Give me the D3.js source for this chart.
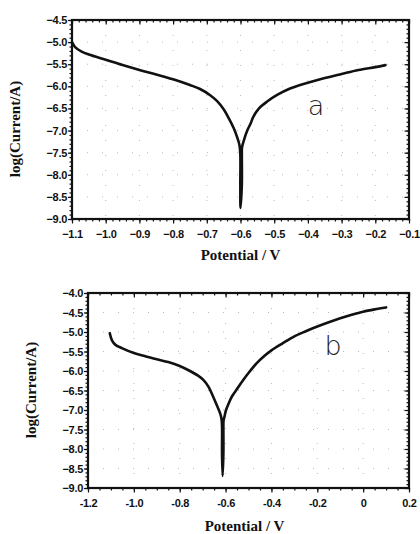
<!DOCTYPE html>
<html><head><meta charset="utf-8">
<script src="https://cdn.jsdelivr.net/npm/d3@7"></script>
<style>
body{margin:0;background:#fff;}
svg{display:block;}
.title{font-family:"Liberation Serif","Times New Roman",serif;font-weight:bold;font-size:15px;fill:#111;}
.tag{font-family:"DejaVu Sans",sans-serif;font-weight:200;font-size:27px;fill:#222;}
</style></head><body>
<svg id="c" width="420" height="534"></svg>
<script>
// Chart a data
const potA = [-1.1,-1.09,-1.07,-1.05,-1.0,-0.95,-0.9,-0.85,-0.8,-0.75,-0.72,-0.69,-0.67,-0.65,-0.635,-0.62,-0.61,-0.603,-0.6005,-0.6005,-0.6,-0.596,-0.596,-0.5955,-0.59,-0.58,-0.57,-0.562,-0.545,-0.522,-0.49,-0.453,-0.423,-0.374,-0.3,-0.25,-0.2,-0.17];
const logA = [-5.0,-5.12,-5.22,-5.28,-5.40,-5.52,-5.63,-5.73,-5.84,-5.97,-6.06,-6.20,-6.33,-6.52,-6.72,-6.95,-7.15,-7.33,-7.55,-8.2,-8.75,-8.2,-7.55,-7.38,-7.22,-7.0,-6.84,-6.69,-6.50,-6.35,-6.19,-6.05,-5.97,-5.86,-5.72,-5.63,-5.565,-5.52];
const xTicksA = [-1.1,-1.0,-0.9,-0.8,-0.7,-0.6,-0.5,-0.4,-0.3,-0.2,-0.1];
const yTicksA = [-4.5,-5.0,-5.5,-6.0,-6.5,-7.0,-7.5,-8.0,-8.5,-9.0];
// Chart b data
const potB = [-1.105,-1.095,-1.08,-1.05,-1.0,-0.95,-0.9,-0.85,-0.8,-0.755,-0.72,-0.697,-0.675,-0.654,-0.638,-0.624,-0.618,-0.6155,-0.6155,-0.613,-0.6095,-0.6095,-0.609,-0.604,-0.598,-0.587,-0.573,-0.55,-0.523,-0.5,-0.464,-0.43,-0.4,-0.35,-0.3,-0.25,-0.2,-0.15,-0.1,-0.05,0.0,0.05,0.1];
const logB = [-5.03,-5.22,-5.33,-5.42,-5.54,-5.62,-5.70,-5.77,-5.87,-6.00,-6.12,-6.23,-6.40,-6.66,-6.88,-7.08,-7.22,-7.40,-8.1,-8.69,-8.1,-7.40,-7.28,-7.15,-7.0,-6.84,-6.66,-6.46,-6.23,-6.05,-5.80,-5.61,-5.47,-5.285,-5.11,-4.98,-4.86,-4.75,-4.65,-4.56,-4.48,-4.42,-4.37];
const xTicksB = [-1.2,-1.0,-0.8,-0.6,-0.4,-0.2,0,0.2];
const xTickLabelsB = ["-1.2","-1.0","-0.8","-0.6","-0.4","-0.2","0","0.2"];
const yTicksB = [-4.0,-4.5,-5.0,-5.5,-6.0,-6.5,-7.0,-7.5,-8.0,-8.5,-9.0];

const svg = d3.select("#c");
const TF = '"Liberation Sans Narrow","Arial Narrow","Liberation Sans",Arial,sans-serif';

function panel(o){
  const x = d3.scaleLinear().domain(o.xd).range([o.l,o.r]);
  const y = d3.scaleLinear().domain(o.yd).range([o.b,o.t]);
  const g = svg.append("g");
  const grid = g.append("g").attr("stroke","#bbb").attr("stroke-width",1).attr("stroke-dasharray","1,14");
  o.xt.forEach(v=>grid.append("line").attr("x1",x(v)).attr("x2",x(v)).attr("y1",o.t).attr("y2",o.b));
  o.yt.forEach(v=>grid.append("line").attr("y1",y(v)).attr("y2",y(v)).attr("x1",o.l).attr("x2",o.r));
  const xm = d3.range(o.xd[0], o.xd[1]+1e-9, o.xminor);
  const ym = d3.range(o.yd[0], o.yd[1]+1e-9, 0.1);
  const ax = (sel,axis)=>{sel.call(axis);sel.select(".domain").remove();sel.selectAll("line").attr("stroke","#111").attr("stroke-width",1.2);
    sel.selectAll("text").attr("font-family",TF).attr("font-weight","bold").attr("font-size",11).attr("fill","#111").attr("letter-spacing","-0.3");};
  g.append("g").attr("transform",`translate(0,${o.b})`).call(s=>ax(s,d3.axisBottom(x).tickValues(xm).tickSize(2.5).tickFormat("")));
  g.append("g").attr("transform",`translate(0,${o.t})`).call(s=>ax(s,d3.axisBottom(x).tickValues(xm).tickSize(2.5).tickFormat("")));
  g.append("g").attr("transform",`translate(${o.l},0)`).call(s=>ax(s,d3.axisLeft(y).tickValues(ym).tickSize(2.5).tickFormat("")));
  g.append("g").attr("transform",`translate(${o.r},0)`).call(s=>ax(s,d3.axisLeft(y).tickValues(ym).tickSize(2.5).tickFormat("")));
  const bx = g.append("g").attr("transform",`translate(0,${o.b})`);
  ax(bx,d3.axisBottom(x).tickValues(o.xt).tickSize(4.5).tickPadding(7).tickFormat((d,i)=>o.xl[i]));
  const ly = g.append("g").attr("transform",`translate(${o.l},0)`);
  ax(ly,d3.axisLeft(y).tickValues(o.yt).tickSize(4).tickPadding(1).tickFormat(d3.format(".1f")));
  g.append("g").attr("transform",`translate(0,${o.t})`).call(s=>ax(s,d3.axisBottom(x).tickValues(o.xt).tickSize(4.5).tickFormat("")));
  g.append("g").attr("transform",`translate(${o.r},0)`).call(s=>ax(s,d3.axisLeft(y).tickValues(o.yt).tickSize(4.5).tickFormat("")));
  g.append("rect").attr("x",o.l).attr("y",o.t).attr("width",o.r-o.l).attr("height",o.b-o.t)
    .attr("fill","none").attr("stroke","#111").attr("stroke-width",2.2);
  const line = d3.line().x(d=>x(d[0])).y(d=>y(d[1])).curve(d3.curveCatmullRom.alpha(0.5));
  g.append("path").datum(o.px.map((v,i)=>[v,o.py[i]])).attr("d",line)
    .attr("fill","none").attr("stroke","#111").attr("stroke-width",2.6).attr("stroke-linejoin","round").attr("stroke-linecap","round");
  g.append("text").attr("class","title").attr("x",(o.l+o.r)/2 + o.xtdx).attr("y",o.xty).attr("text-anchor","middle").text("Potential / V");
  g.append("text").attr("class","title").attr("transform",`translate(${o.ytx},${o.ytc}) rotate(-90)`).attr("text-anchor","middle").attr("dy","0.35em").text("log(Current/A)");
  g.append("text").attr("class","tag").attr("x",o.tagx).attr("y",o.tagy).attr("text-anchor","middle").text(o.tag);
}

panel({xd:[-1.1,-0.1], yd:[-9.0,-4.5], l:72, r:409, t:20, b:219, xt:xTicksA, xl:xTicksA.map(d3.format(".1f")), yt:yTicksA, xminor:0.02,
  px:potA, py:logA, xty:260, xtdx:0, ytx:15, ytc:129, tag:"a", tagx:316, tagy:115});
panel({xd:[-1.2,0.2], yd:[-9.0,-4.0], l:88, r:409, t:293, b:488, xt:xTicksB, xl:xTickLabelsB, yt:yTicksB, xminor:0.05,
  px:potB, py:logB, xty:531, xtdx:-4, ytx:31, ytc:390, tag:"b", tagx:333, tagy:355});
</script></body></html>
